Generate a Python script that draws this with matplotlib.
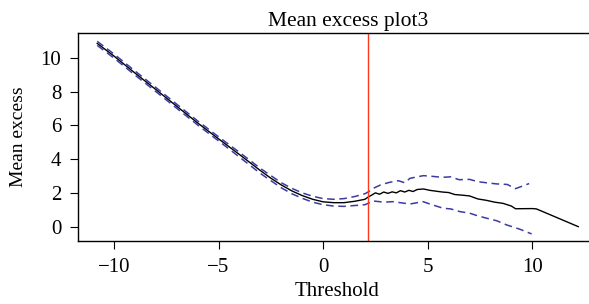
import matplotlib
matplotlib.use('Agg')
import matplotlib.pyplot as plt

# Mean excess function
threshold = [-10.8, -10, -9, -8, -7, -6, -5, -4, -3, -2.5, -2, -1.5, -1, -0.5,
             0, 0.5, 1.0, 1.5, 2.0, 2.15, 2.3, 2.5, 2.7, 2.9, 3.1, 3.3, 3.5,
             3.7, 3.9, 4.1, 4.3, 4.5, 4.8, 5.1, 5.4, 5.7, 6.0, 6.3, 6.6, 7.0,
             7.4, 7.8, 8.2, 8.6, 9.0, 9.2, 10.0, 10.2, 12.2]
mean_excess = [10.85, 10.1, 9.1, 8.12, 7.13, 6.14, 5.2, 4.27, 3.32, 2.87, 2.47,
               2.12, 1.84, 1.62, 1.47, 1.42, 1.42, 1.5, 1.62, 1.75, 1.85, 2.0,
               1.92, 2.05, 1.97, 2.06, 2.0, 2.13, 2.05, 2.15, 2.08, 2.2, 2.23,
               2.15, 2.1, 2.05, 2.02, 1.9, 1.87, 1.82, 1.64, 1.56, 1.45, 1.38,
               1.22, 1.06, 1.07, 1.05, 0.0]

upper_x = [-10.8, -10, -9, -8, -7, -6, -5, -4, -3, -2, -1.5, -1, -0.5, 0, 0.5,
           1.0, 1.5, 2.0, 2.15, 2.4, 2.8, 3.2, 3.6, 3.9, 4.15, 4.5, 4.8, 5.2,
           5.7, 6.1, 6.5, 7.0, 7.4, 7.8, 8.3, 8.8, 9.2, 9.85]
upper_y = [10.97, 10.22, 9.22, 8.24, 7.25, 6.26, 5.32, 4.4, 3.45, 2.6, 2.27,
           2.0, 1.8, 1.66, 1.62, 1.66, 1.78, 1.95, 2.05, 2.27, 2.5, 2.63, 2.72,
           2.6, 2.86, 2.95, 3.02, 2.98, 2.92, 2.95, 2.78, 2.8, 2.66, 2.6, 2.53,
           2.5, 2.25, 2.55]

lower_x = [-10.8, -10, -9, -8, -7, -6, -5, -4, -3, -2, -1.5, -1, -0.5, 0, 0.5,
           1.0, 1.5, 2.0, 2.15, 2.4, 2.9, 3.35, 3.8, 4.15, 4.5, 4.78, 5.2, 5.74,
           6.1, 6.54, 7.0, 7.42, 7.82, 8.3, 8.78, 9.4, 9.97]
lower_y = [10.73, 9.98, 8.98, 8.0, 7.01, 6.02, 5.08, 4.12, 3.15, 2.3, 1.95,
           1.68, 1.45, 1.3, 1.22, 1.2, 1.25, 1.3, 1.38, 1.52, 1.45, 1.48, 1.4,
           1.34, 1.42, 1.48, 1.3, 1.09, 1.05, 0.89, 0.8, 0.63, 0.5, 0.35, 0.1,
           -0.15, -0.43]

chosen_threshold = 2.15

plt.rcParams['font.family'] = ['Liberation Serif', 'DejaVu Serif']

fig = plt.figure(figsize=(5.89, 3.04), dpi=100)
# right edge of the box falls just outside the image, as in the reference
ax = fig.add_axes([0.1324, 0.2072, 0.881, 0.684])

ax.plot(threshold, mean_excess, color='black', lw=1.0)
ax.plot(upper_x, upper_y, color='#3b3ba3', lw=1.1, dashes=(5, 3))
ax.plot(lower_x, lower_y, color='#3b3ba3', lw=1.1, dashes=(5, 3))
ax.axvline(chosen_threshold, color='#ff3a1c', lw=1.0)

ax.set_xlim(-11.72, 13.09)
ax.set_ylim(-0.85, 11.46)
ax.set_xticks([-10, -5, 0, 5, 10])
ax.set_xticklabels(['\u221210', '\u22125', '0', '5', '10'])
ax.set_yticks([0, 2, 4, 6, 8, 10])

ax.tick_params(labelsize=15, length=6, width=0.8, direction='out')
ax.tick_params(axis='y', pad=6)
ax.tick_params(axis='x', pad=6)
ax.set_xlabel('Threshold', fontsize=15, labelpad=4)
ax.set_ylabel('Mean excess', fontsize=14, labelpad=10)
ax.set_title('Mean excess plot3', fontsize=15.5, pad=5, x=0.52)

for s in ax.spines.values():
    s.set_linewidth(1.0)

fig.savefig('out.png', dpi=100)
